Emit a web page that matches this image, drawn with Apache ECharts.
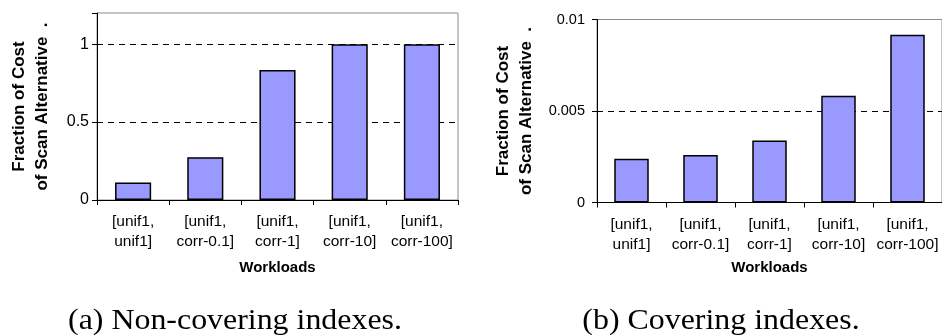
<!DOCTYPE html>
<html>
<head>
<meta charset="utf-8">
<script src="https://cdn.jsdelivr.net/npm/echarts@6/dist/echarts.min.js"></script>
<style>
html,body{margin:0;padding:0;background:#fff;}
#c{width:942px;height:335px;}
</style>
</head>
<body>
<div id="c"></div>
<script>
const categories = ['[unif1,\nunif1]', '[unif1,\ncorr-0.1]', '[unif1,\ncorr-1]', '[unif1,\ncorr-10]', '[unif1,\ncorr-100]'];
const nonCovering = [0.113, 0.274, 0.835, 1.0, 1.0];
const covering = [0.00239, 0.0026, 0.00339, 0.00583, 0.00917];
const yTitle = 'Fraction of Cost\nof Scan Alternative  .';
const xTitle = 'Workloads';
const captionA = '(a) Non-covering indexes.';
const captionB = '(b) Covering indexes.';

const FONT = 'Arial, "Liberation Sans", sans-serif';
const chart = echarts.init(document.getElementById('c'), null, {renderer: 'canvas'});

function xAxis(idx, gap) {
  return {
    type: 'category', gridIndex: idx, data: categories,
    axisLine: {lineStyle: {color: '#000', width: 1}},
    axisTick: {show: true, length: 5, lineStyle: {color: '#000'}},
    axisLabel: {color: '#000', fontFamily: FONT, fontSize: 15.5, lineHeight: 20, margin: 12, interval: 0},
    name: xTitle, nameLocation: 'middle', nameGap: gap,
    nameTextStyle: {color: '#000', fontFamily: FONT, fontSize: 15, fontWeight: 'bold'}
  };
}
function yAxis(idx, max, interval, gap, margin, fs, fmt, splitColors) {
  return {
    type: 'value', gridIndex: idx, min: 0, max: max, interval: interval,
    axisLine: {show: true, lineStyle: {color: '#000'}},
    axisTick: {show: true, length: 5, lineStyle: {color: '#000'}},
    axisLabel: {color: '#000', fontFamily: FONT, fontSize: fs, margin: margin, formatter: fmt},
    splitLine: {show: true, lineStyle: {color: splitColors, type: [6, 5], width: 1}},
    name: yTitle, nameLocation: 'middle', nameGap: gap, nameRotate: 90,
    nameTextStyle: {color: '#000', fontFamily: FONT, fontSize: 17, fontWeight: 'bold', lineHeight: 23}
  };
}

chart.setOption({
  animation: false,
  grid: [
    {left: 97, top: 13, width: 361, height: 187, show: true, borderColor: '#8c8c8c', borderWidth: 1, backgroundColor: 'transparent'},
    {left: 597, top: 19.5, width: 347, height: 183, show: true, borderColor: '#8c8c8c', borderWidth: 1, backgroundColor: 'transparent'}
  ],
  xAxis: [xAxis(0, 60), xAxis(1, 58)],
  yAxis: [
    yAxis(0, 1.2, 0.5, 43, 8, 16, v => (v > 1.05 ? '' : String(v)), ['transparent', '#000', '#000', 'transparent']),
    yAxis(1, 0.01, 0.005, 59, 12, 14.5, v => String(v), ['transparent', '#000', 'transparent'])
  ],
  series: [
    {type: 'bar', xAxisIndex: 0, yAxisIndex: 0, data: nonCovering, barWidth: '50%',
     itemStyle: {color: '#9999ff', borderColor: '#000', borderWidth: 1.5}},
    {type: 'bar', xAxisIndex: 1, yAxisIndex: 1, data: covering, barWidth: '50%',
     itemStyle: {color: '#9999ff', borderColor: '#000', borderWidth: 1.5}}
  ],
  graphic: [
    {type: 'text', x: 235, y: 321, scaleX: 1.1,
     style: {text: captionA, x: 0, y: 0, align: 'center', verticalAlign: 'middle', fill: '#000',
             font: '29px "Liberation Serif", "Times New Roman", serif'}},
    {type: 'text', x: 721, y: 321, scaleX: 1.1,
     style: {text: captionB, x: 0, y: 0, align: 'center', verticalAlign: 'middle', fill: '#000',
             font: '29px "Liberation Serif", "Times New Roman", serif'}}
  ]
});
</script>
</body>
</html>
